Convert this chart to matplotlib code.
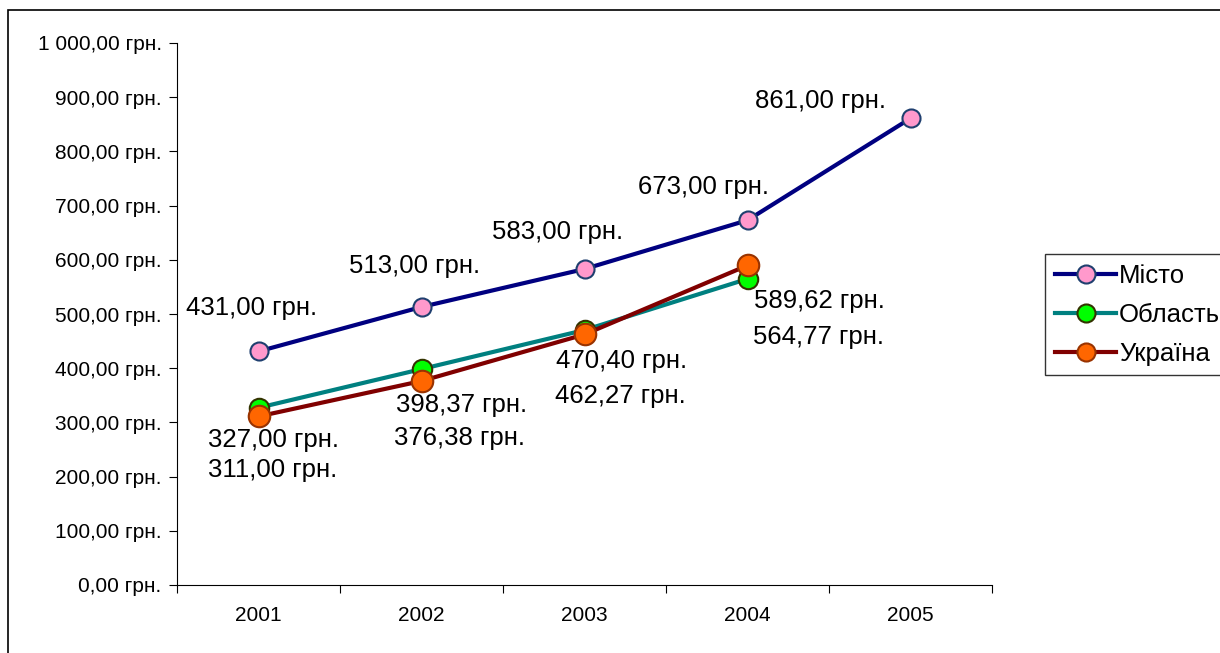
import matplotlib.pyplot as plt
from matplotlib.patches import Rectangle
from matplotlib.lines import Line2D

plt.rcParams['font.family'] = ['Liberation Sans', 'DejaVu Sans']

years = ['2001', '2002', '2003', '2004', '2005']
misto = [431.00, 513.00, 583.00, 673.00, 861.00]
oblast = [327.00, 398.37, 470.40, 564.77]
ukraina = [311.00, 376.38, 462.27, 589.62]
names = ['Місто', 'Область', 'Україна']

# label offsets in pixels (dx, dy of baseline) - placed by hand like in Excel
off_misto = [(-7, 36), (-7, 34), (-27, 30), (-44, 26), (-90, 10)]
off_oblast = [(15, -39), (40, -43), (37, -38), (71, -65)]
off_ukr = [(14, -61), (38, -64), (36, -69), (72, -43)]


def fmt(v):
    s = f"{v:,.2f}".replace(",", " ").replace(".", ",")
    return s + " грн."


fig = plt.figure(figsize=(12.2, 6.53), dpi=100)
ax = fig.add_axes([177/1220, 1-585/653, (992-177)/1220, (585-43)/653])

x = list(range(len(years)))
styles = [
    (misto, '#000080', '#FF99CC', '#1F3F6F', 13, off_misto),
    (oblast, '#008080', '#00FF00', '#333300', 14, off_oblast),
    (ukraina, '#800000', '#FF6600', '#993300', 15.5, off_ukr),
]
handles = []
for (vals, lc, fc, ec, ms, offs), nm in zip(styles, names):
    xs = x[:len(vals)]
    ln, = ax.plot(xs, vals, color=lc, lw=3, marker='o', ms=ms,
                  markerfacecolor=fc, markeredgecolor=ec, markeredgewidth=1.5,
                  clip_on=False, zorder=3)
    handles.append(Line2D([], [], color=lc, lw=3, marker='o', ms=13,
                          markerfacecolor=fc, markeredgecolor=ec,
                          markeredgewidth=1.5))
    for xi, v, (dx, dy) in zip(xs, vals, offs):
        ax.annotate(fmt(v), (xi, v), xytext=(dx, dy), textcoords='offset pixels',
                    ha='center', va='baseline', fontsize=18.5, zorder=5)

ax.set_xlim(-0.5, 4.5)
ax.set_ylim(0, 1000)
ax.set_yticks(range(0, 1001, 100))
ax.set_yticklabels([fmt(v) for v in range(0, 1001, 100)], fontsize=15)
ax.set_xticks([i - 0.5 for i in range(6)])
ax.set_xticklabels([])
ax.set_xticks(x, minor=True)
ax.set_xticklabels(years, minor=True, fontsize=15)
ax.tick_params(axis='x', which='minor', length=0, pad=15)
ax.tick_params(axis='x', which='major', length=6, direction='out')
ax.tick_params(axis='y', length=6, direction='out', pad=5)
for s in ['top', 'right']:
    ax.spines[s].set_visible(False)

leg = fig.legend(handles, names, loc='upper left',
                 bbox_to_anchor=(1045/1220, 1-254/653), fontsize=18.5,
                 frameon=True, fancybox=False, edgecolor='black',
                 handlelength=2.4, handletextpad=0.1, labelspacing=0.58,
                 borderpad=0.38, borderaxespad=0)
leg.get_frame().set_linewidth(1.0)

fig.patches.append(Rectangle((8/1220, -0.1), 1.2, 1-10/653+0.1,
                             transform=fig.transFigure, fill=False,
                             edgecolor='black', lw=1.2))

fig.savefig('out.png', dpi=100)
